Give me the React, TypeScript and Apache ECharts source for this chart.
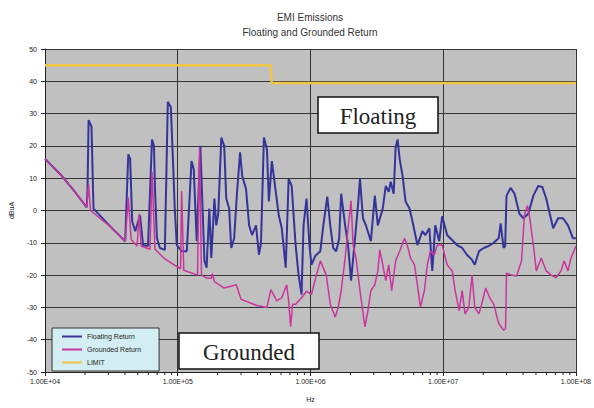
import React, { useEffect, useRef } from 'react';
import * as echarts from 'echarts';

// Frequencies in Hz, levels in dBuA
const floatingFreq = [
  10000, 13200, 17000, 20600, 20900, 21300, 22400, 23200, 31100, 40200,
  42400, 43800, 45400, 47800, 52000, 54800, 59700, 64000, 66200, 67400,
  69700, 73400, 80000, 84200, 88700, 91800, 95000, 98300, 107000, 117000,
  127000, 132000, 139000, 148000, 159000, 165000, 173000, 179000, 189000, 195000,
  202000, 213000, 224000, 232000, 244000, 253000, 266000, 280000, 295000, 306000,
  327000, 345000, 363000, 389000, 409000, 424000, 446000, 470000, 486000, 512000,
  548000, 577000, 608000, 651000, 685000, 722000, 773000, 814000, 857000, 887000,
  934000, 983000, 1017000, 1090000, 1187000, 1250000, 1339000, 1410000, 1484000, 1563000,
  1646000, 1703000, 1825000, 1921000, 2023000, 2167000, 2281000, 2361000, 2486000, 2617000,
  2852000, 3055000, 3217000, 3506000, 3692000, 3887000, 4022000, 4236000, 4384000, 4537000,
  4696000, 4943000, 5205000, 5576000, 5871000, 6397000, 6972000, 7340000, 7863000, 8279000,
  8717000, 9336000, 9830000, 10.7e6, 11.7e6, 12.7e6, 13.9e6, 15.1e6, 16.5e6, 17.3e6,
  18.6e6, 20.2e6, 22.0e6, 24.0e6, 26.2e6, 27.1e6, 28.5e6, 29.3e6, 30.0e6, 32.2e6,
  34.5e6, 37.5e6, 40.2e6, 43.8e6, 47.8e6, 52.0e6, 55.8e6, 59.7e6, 67.4e6, 73.4e6,
  80.0e6, 87.2e6, 95.0e6, 100e6,
];
const floatingVal = [
  16, 11, 5.5, 1, 6, 28, 26, 0.6, -5, -9.5,
  17.4, 16, -3.4, -6.4, -1.5, -10.7, -11, 22, 20, 6.7,
  -8.6, -11.6, -12.2, 33.7, 32, 16.8, 0.6, -10.7, -12.6, -12.6,
  15.3, 12.8, -9.5, 20, -15.6, -17.7, 0.6, -14.7, 3.7, -4.6,
  -1, 22.6, 20, 3.7, 0.6, -11.6, -8.6, 5.8, 18, 10.7,
  6.7, -4.6, -7.6, -4.6, -13.7, -10, 22.6, 19, 2.8, 15.3,
  5.8, -1.5, -5.5, -17.7, 9.8, 7.6, -10.7, -20, -26, -4.6,
  3.7, -10.7, -16.8, -14, -12.6, -4.6, 4.3, -4.6, -11.6, -12.6,
  -8.6, 5.2, -4.6, -10.7, -21.7, -8.6, 1.5, 9.8, -2.4, -4.6,
  -9.5, 4.6, -4.6, 0.6, 7.6, 5.8, 8.9, 5.2, 19.6, 22,
  16, 10.7, 2.8, 0.6, -3.4, -10.7, -6.4, -7.6, -5.5, -18.7,
  -4.6, -9.5, -1.8, -7.6, -9.2, -10.7, -11.6, -13.7, -15.3, -16.8,
  -12.6, -11.6, -11, -10, -8.6, -4, -11.6, -11, 4.6, 7,
  5.2, -1, -2.4, -1, 4.6, 7.6, 7.3, 3.7, -5.5, -2.4,
  -2.4, -4.6, -8.6, -8.6,
];

const groundedFreq = [
  10000, 13200, 17000, 20600, 21300, 22000, 31100, 40200, 42400, 44600,
  49400, 51200, 53000, 61800, 64000, 67400, 80000, 100000, 105000, 107000,
  111000, 141000, 146000, 151000, 167000, 179000, 182000, 189000, 224000, 276000,
  300000, 395000, 470000, 503000, 558000, 608000, 662000, 685000, 709000, 734000,
  773000, 857000, 934000, 1017000, 1109000, 1187000, 1316000, 1410000, 1537000, 1618000,
  1703000, 1825000, 1921000, 2023000, 2094000, 2204000, 2361000, 2573000, 2709000, 2852000,
  3055000, 3217000, 3330000, 3506000, 3692000, 3887000, 4093000, 4384000, 4696000, 5117000,
  5387000, 5672000, 6076000, 6397000, 6737000, 7216000, 7597000, 8000000, 8567000, 9021000,
  9830000, 10.7e6, 11.7e6, 12.3e6, 13.2e6, 13.9e6, 14.6e6, 15.6e6, 16.5e6, 17.3e6,
  18.6e6, 19.5e6, 20.9e6, 22.4e6, 24.0e6, 26.2e6, 28.5e6, 29.5e6, 30.0e6, 32.7e6,
  35.7e6, 38.9e6, 40.9e6, 43.1e6, 44.6e6, 47.8e6, 50.3e6, 54.8e6, 59.7e6, 65.1e6,
  70.9e6, 77.3e6, 81.4e6, 87.2e6, 91.8e6, 96.6e6, 100e6,
];
const groundedVal = [
  16, 11, 5.5, 1, 8, 0, -5, -9.5, 4, -9,
  -11, -1, -11, -12, 12, -12, -15, -17.5, -18, 6,
  -18.5, -20, 19.5, -20, -21, -21, -19.5, -22, -24, -23,
  -27.5, -29.4, -30, -24.5, -28, -27, -23, -28, -36, -29,
  -29, -27, -25, -26, -20, -15.6, -20, -29, -33, -30,
  -25, -14.7, -5.5, 3, -10.7, -14.7, -24.8, -36, -31, -24.8,
  -23, -18.7, -12.2, -16.8, -21.7, -16.8, -24.8, -15.6, -12.6, -8.6,
  -11, -14.7, -16.8, -23, -30, -24.8, -16.8, -12.6, -13.8, -10.7,
  -10.7, -16.8, -18.7, -24.8, -31, -24.8, -32, -30, -20, -30,
  -32, -29, -24, -27, -29, -35, -37, -36.6, -19.4, -20,
  -20.3, -15.6, -1.5, 1.5, -1.5, -10.7, -18.7, -14.7, -18.7, -20,
  -20.8, -18.7, -15.6, -18.7, -14.7, -12.6, -11,
];

const limitFreq = [10000, 500000, 510000, 100000000];
const limitVal = [45, 45, 39.5, 39.5];

const minorMultipliers = [2, 3, 4, 5, 6, 7, 8, 9];
const minorDecades = [1e4, 1e5, 1e6, 1e7];

const Y_MIN = -50;
const Y_MAX = 50;
const Y_STEP = 10;

const zip = (a: number[], b: number[]) => a.map((v, i) => [v, b[i]]);

export default function App() {
  const ref = useRef<HTMLDivElement>(null);
  useEffect(() => {
    const chart = echarts.init(ref.current!, null, { renderer: 'svg' });
    const minorTicks: number[][] = [];
    minorDecades.forEach((d) => minorMultipliers.forEach((m) => minorTicks.push([d * m, Y_MIN])));
    const font = 'Liberation Sans, Arial, sans-serif';
    chart.setOption({
      animation: false,
      backgroundColor: '#ffffff',
      textStyle: { fontFamily: font },
      grid: {
        left: 44,
        right: 14,
        top: 49,
        bottom: 32,
        show: true,
        backgroundColor: '#c0c0c0',
        borderWidth: 0,
      },
      legend: {
        data: ['Floating Return', 'Grounded Return', 'LIMIT'],
        orient: 'vertical',
        left: 52,
        top: 328,
        backgroundColor: '#d3eef2',
        borderColor: '#333',
        borderWidth: 1,
        padding: [5, 18, 5, 10],
        itemWidth: 20,
        itemHeight: 2,
        itemGap: 6,
        icon: 'rect',
        textStyle: { fontSize: 7, color: '#222', fontFamily: font },
      },
      xAxis: {
        type: 'log',
        logBase: 10,
        min: 1e4,
        max: 1e8,
        name: 'Hz',
        nameLocation: 'middle',
        nameGap: 24,
        nameTextStyle: { fontSize: 7, color: '#222' },
        axisLine: { onZero: false, lineStyle: { color: '#222', width: 1 } },
        axisTick: { show: true, length: 4, lineStyle: { color: '#222' } },
        axisLabel: {
          fontSize: 7,
          color: '#222',
          margin: 6,
          formatter: (v: number) => '1.00E+' + String(Math.round(Math.log10(v))).padStart(2, '0'),
        },
        splitLine: { show: true, lineStyle: { color: '#333', width: 1 } },
      },
      yAxis: {
        type: 'value',
        min: Y_MIN,
        max: Y_MAX,
        interval: Y_STEP,
        name: 'dBuA',
        nameLocation: 'middle',
        nameGap: 30,
        nameRotate: 90,
        nameTextStyle: { fontSize: 7, color: '#222' },
        axisLine: { show: true, lineStyle: { color: '#222', width: 1 } },
        axisTick: { show: true, length: 4, lineStyle: { color: '#222' } },
        axisLabel: { fontSize: 7, color: '#222', margin: 8 },
        splitLine: { show: true, lineStyle: { color: '#333', width: 1 } },
      },
      series: [
        {
          name: 'Floating Return',
          type: 'line',
          data: zip(floatingFreq, floatingVal),
          showSymbol: false,
          symbol: 'none',
          lineStyle: { color: '#34349a', width: 2 },
          itemStyle: { color: '#34349a' },
          z: 2,
        },
        {
          name: 'Grounded Return',
          type: 'line',
          data: zip(groundedFreq, groundedVal),
          showSymbol: false,
          symbol: 'none',
          lineStyle: { color: '#c9359e', width: 1.5 },
          itemStyle: { color: '#c9359e' },
          z: 3,
        },
        {
          name: 'LIMIT',
          type: 'line',
          data: zip(limitFreq, limitVal),
          showSymbol: false,
          symbol: 'none',
          lineStyle: { color: '#eec545', width: 2.5 },
          itemStyle: { color: '#eec545' },
          z: 4,
        },
        {
          type: 'custom',
          data: minorTicks,
          silent: true,
          clip: false,
          z: 5,
          renderItem: (_params: any, api: any) => {
            const p = api.coord([api.value(0), api.value(1)]);
            return {
              type: 'line',
              shape: { x1: p[0], y1: p[1], x2: p[0], y2: p[1] + 3 },
              style: { stroke: '#222', lineWidth: 1 },
            };
          },
        },
      ],
      graphic: [
        {
          type: 'text',
          x: 310,
          y: 17,
          style: { text: 'EMI Emissions', fontSize: 10, fill: '#333', textAlign: 'center', textVerticalAlign: 'middle', fontFamily: font },
        },
        {
          type: 'text',
          x: 310,
          y: 32,
          style: { text: 'Floating and Grounded Return', fontSize: 10, fill: '#333', textAlign: 'center', textVerticalAlign: 'middle', fontFamily: font },
        },
        {
          type: 'rect',
          z: 100,
          shape: { x: 318, y: 97, width: 120, height: 36 },
          style: { fill: '#ffffff', stroke: '#111', lineWidth: 1.5 },
        },
        {
          type: 'text',
          z: 101,
          x: 378,
          y: 116,
          style: { text: 'Floating', fontSize: 23, fill: '#222', textAlign: 'center', textVerticalAlign: 'middle', fontFamily: 'Liberation Serif, Times New Roman, serif' },
        },
        {
          type: 'rect',
          z: 100,
          shape: { x: 179, y: 333, width: 140, height: 36 },
          style: { fill: '#ffffff', stroke: '#111', lineWidth: 1.5 },
        },
        {
          type: 'text',
          z: 101,
          x: 249,
          y: 352,
          style: { text: 'Grounded', fontSize: 23, fill: '#222', textAlign: 'center', textVerticalAlign: 'middle', fontFamily: 'Liberation Serif, Times New Roman, serif' },
        },
      ],
    });
    return () => chart.dispose();
  }, []);
  return <div ref={ref} style={{ position: 'fixed', left: 0, top: 0, width: 594, height: 408 }} />;
}
